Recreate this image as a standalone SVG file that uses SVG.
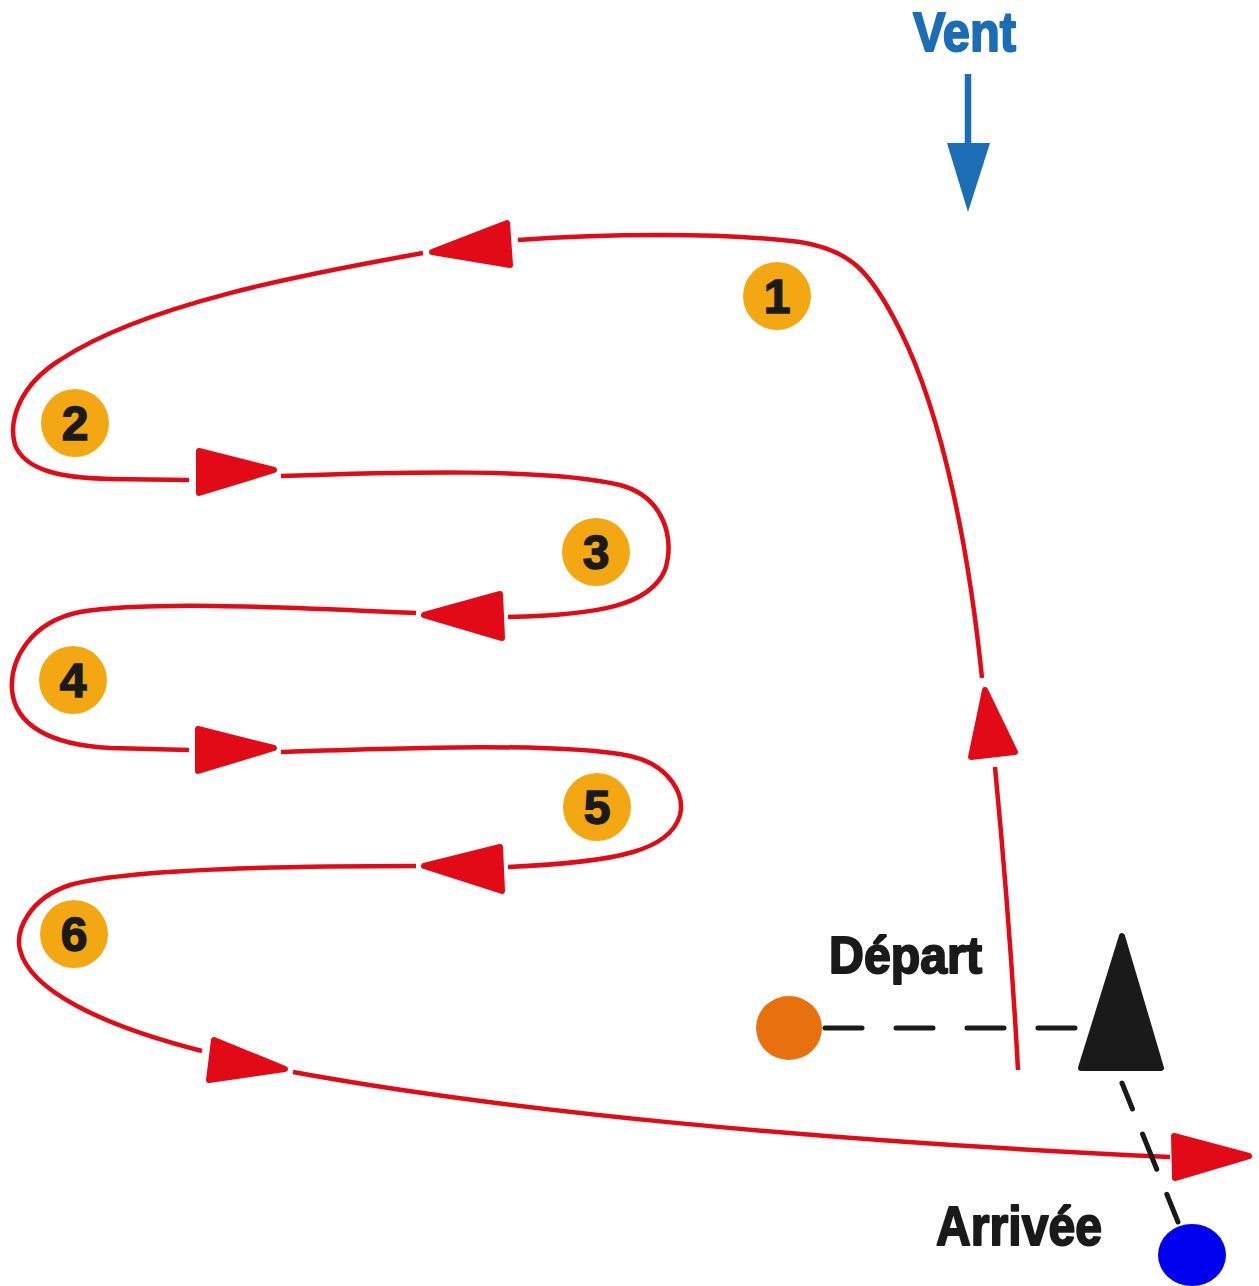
<svg xmlns="http://www.w3.org/2000/svg" width="1259" height="1286" viewBox="0 0 1259 1286">
<style>
.route{fill:none;stroke:#E30A17;stroke-width:4.5;stroke-linecap:butt}
.head{fill:#E30A17;stroke:#E30A17;stroke-width:6;stroke-linejoin:round}
.badge circle{fill:#F3A712}
.badge text{font-family:"Liberation Sans",Arial,sans-serif;font-weight:bold;font-size:48px;fill:#1a1a1a;stroke:#1a1a1a;stroke-width:1.5;text-anchor:middle}
.lbl{font-family:"Liberation Sans",Arial,sans-serif;font-weight:bold;fill:#1a1a1a;stroke:#1a1a1a;stroke-width:2;stroke-linejoin:round}
.dash{stroke:#1a1a1a;stroke-width:5;stroke-linecap:round;fill:none}
</style>
<rect width="1259" height="1286" fill="#ffffff"/>

<g id="wind">
  <text x="913" y="51" class="lbl" style="fill:#1B6DB6;stroke:#1B6DB6;font-size:55px" textLength="103" lengthAdjust="spacingAndGlyphs">Vent</text>
  <line x1="968" y1="74" x2="968" y2="146" stroke="#1B6DB6" stroke-width="6.5"/>
  <polygon points="947,143 990,143 968,212" fill="#1B6DB6"/>
</g>

<g id="connectors">
  <path class="route" d="M1018,1070 C1012,960 1002,840 995,767"/>
  <polygon class="head" points="985,690 1015,752 971,757"/>
  <path class="route" d="M982,678 C970,560 945,420 900,330 C870,270 850,250 800,242 C720,232 600,234 518,240"/>
  <polygon class="head" points="432,252 507,223 510,265"/>
  <path class="route" d="M423,253 C330,270 150,300 60,360 C20,385 8,420 15,445 C25,470 60,478 110,479 L189,480"/>
  <polygon class="head" points="274,470 199,451 199,493"/>
  <path class="route" d="M281,476 C400,472 550,468 620,485 C665,497 675,540 665,570 C650,605 600,615 508,617"/>
  <polygon class="head" points="424,615 500,594 502,638"/>
  <path class="route" d="M416,613 C300,608 150,600 80,612 C30,622 10,660 12,690 C15,725 50,745 110,748 L189,750"/>
  <polygon class="head" points="274,748 198,729 198,771"/>
  <path class="route" d="M281,752 C400,748 560,742 630,756 C670,765 685,795 680,815 C670,850 620,862 508,867"/>
  <polygon class="head" points="424,866 500,847 502,891"/>
  <path class="route" d="M416,866 C300,866 130,868 70,885 C30,898 15,930 20,950 C30,990 100,1025 202,1051"/>
  <polygon class="head" points="285,1069 214,1040 209,1080"/>
  <path class="route" d="M293,1072 C500,1110 800,1140 1170,1157"/>
  <polygon class="head" points="1249,1156 1174,1136 1175,1178"/>
  <line class="dash" x1="825" y1="1028" x2="1078" y2="1028" stroke-dasharray="37 34"/>
  <line class="dash" x1="1122" y1="1083" x2="1178" y2="1222" stroke-dasharray="28 27 38 27 40"/>
</g>

<g id="badge1" class="badge"><circle cx="777" cy="296" r="34"/><text x="777" y="313">1</text></g>
<g id="badge2" class="badge"><circle cx="75" cy="423" r="34"/><text x="75" y="440">2</text></g>
<g id="badge3" class="badge"><circle cx="596" cy="552" r="34"/><text x="596" y="569">3</text></g>
<g id="badge4" class="badge"><circle cx="73" cy="680" r="34"/><text x="73" y="697">4</text></g>
<g id="badge5" class="badge"><circle cx="597" cy="807" r="34"/><text x="597" y="824">5</text></g>
<g id="badge6" class="badge"><circle cx="74" cy="934" r="34"/><text x="74" y="951">6</text></g>

<g id="depart">
  <text x="829" y="973" class="lbl" style="font-size:52px" textLength="153" lengthAdjust="spacingAndGlyphs">Départ</text>
  <ellipse cx="789" cy="1028" rx="33" ry="32" fill="#E8700F"/>
</g>
<g id="buoy">
  <polygon points="1122,936 1161,1068 1081,1068" fill="#1a1a1a" stroke="#1a1a1a" stroke-width="6" stroke-linejoin="round"/>
</g>
<g id="arrivee">
  <text x="936" y="1245" class="lbl" style="font-size:56px" textLength="166" lengthAdjust="spacingAndGlyphs">Arrivée</text>
  <ellipse cx="1192" cy="1255" rx="34" ry="31" fill="#0000EE"/>
</g>
</svg>
